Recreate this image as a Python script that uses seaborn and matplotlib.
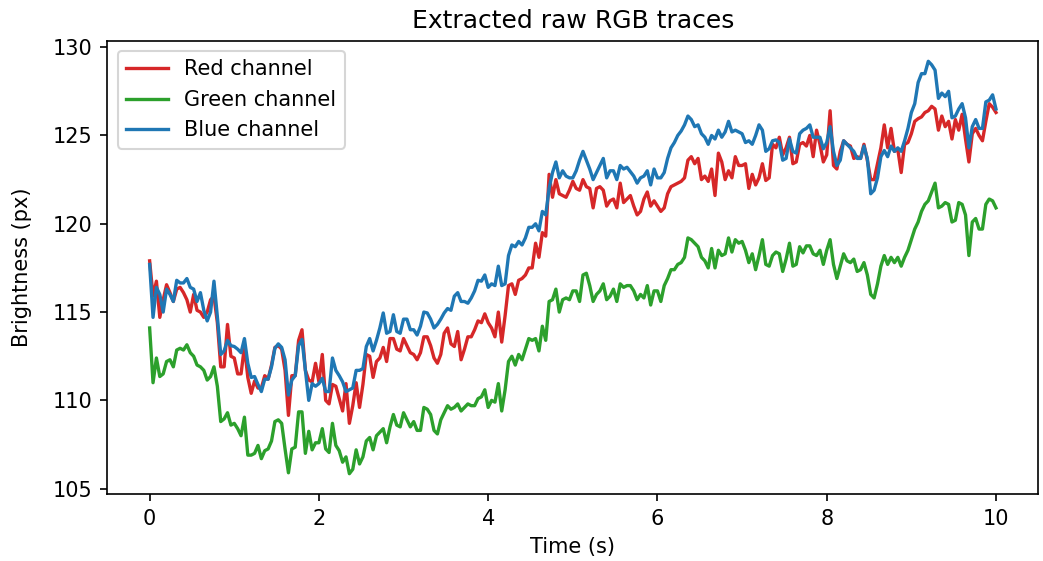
import numpy as np
import pandas as pd
import matplotlib
matplotlib.use("Agg")
import matplotlib.pyplot as plt
import seaborn as sns

# Brightness traces sampled every 0.04 s from 0 to 10 s
red_vals = [
    117.9, 115.9, 116.75, 114.7, 115.7, 116.55, 116.1, 115.6, 116.3, 116.4,
    116.1, 115.7, 115.0, 116.0, 115.1, 115.0, 114.7, 115.0, 115.7, 115.9,
    114.4, 111.9, 111.9, 114.3, 112.5, 112.4, 111.5, 111.5, 113.05, 111.3,
    110.4, 111.1, 110.7, 110.7, 111.4, 111.2, 112.0, 113.0, 113.1, 112.9,
    111.7, 109.15, 111.4, 111.4, 113.4, 114.0, 111.7, 111.15, 111.05, 112.1,
    111.05, 112.6, 110.0, 109.8, 110.9, 110.8, 110.1, 109.4, 110.95, 108.7,
    109.7, 111.0, 109.6, 110.9, 112.6, 112.5, 111.3, 112.2, 112.4, 113.0,
    112.2, 113.5, 113.5, 112.9, 112.8, 113.5, 113.1, 112.7, 112.6, 112.3,
    112.7, 113.6, 113.6, 113.1, 112.4, 112.1, 112.6, 113.8, 114.1, 113.2,
    113.05, 113.9, 112.3, 112.9, 113.6, 113.6, 114.0, 114.5, 114.4, 114.9,
    114.4, 114.1, 113.6, 115.0, 113.3, 114.8, 116.5, 116.6, 116.0, 116.8,
    116.9, 117.1, 117.5, 117.5, 118.9, 118.1, 119.5, 119.3, 122.8, 121.5,
    122.5, 121.7, 121.6, 121.5, 121.9, 122.4, 122.0, 121.9, 122.5, 122.1,
    122.0, 120.9, 122.0, 122.1, 121.9, 121.0, 121.3, 121.4, 120.9, 122.3,
    121.2, 121.4, 121.6, 121.0, 120.5, 120.7, 121.4, 121.8, 121.0, 121.3,
    121.0, 120.7, 120.9, 121.7, 122.1, 122.2, 122.3, 122.4, 122.6, 123.6,
    123.8, 123.4, 123.7, 122.5, 122.7, 122.4, 123.1, 121.6, 124.0, 123.5,
    122.5, 123.0, 122.6, 123.8, 123.3, 123.3, 123.4, 122.0, 122.8, 122.2,
    122.6, 123.4, 122.45, 122.6, 124.5, 124.3, 124.9, 123.9, 124.3, 124.9,
    123.4, 123.5, 124.5, 124.6, 124.4, 125.0, 123.8, 125.3, 124.5, 123.5,
    123.9, 126.4, 123.3, 123.1, 124.1, 124.7, 124.5, 124.4, 123.7, 123.8,
    123.7, 124.5, 123.6, 122.5, 122.5, 123.4, 124.3, 125.6, 124.3, 125.4,
    124.1, 124.2, 122.9, 124.5, 124.6, 125.1, 125.8, 125.95, 126.05, 126.3,
    126.4, 126.65, 126.5, 125.3, 126.1, 125.5, 125.8, 124.8, 125.9, 125.3,
    126.2, 124.8, 123.5, 125.1, 125.4, 125.0, 124.7, 125.8, 126.8, 126.6,
    126.3,
]

green_vals = [
    114.1, 111.0, 112.4, 111.35, 111.5, 112.2, 112.3, 111.9, 112.85, 112.95,
    112.85, 113.15, 112.7, 112.5, 112.0, 111.9, 111.7, 111.15, 111.35, 111.9,
    110.8, 108.8, 108.95, 109.3, 108.6, 108.7, 108.4, 108.0, 109.05, 106.9,
    106.9, 107.0, 107.45, 106.7, 107.15, 107.25, 107.7, 108.8, 108.9, 108.7,
    107.25, 105.9, 107.25, 107.35, 109.35, 109.35, 107.0, 108.25, 107.2, 107.6,
    107.6, 108.4, 107.25, 107.05, 108.7, 107.45, 107.15, 106.5, 106.8, 105.85,
    106.1, 107.2, 106.4, 106.8, 107.7, 107.9, 107.2, 108.0, 108.2, 108.4,
    107.6, 108.5, 109.2, 108.6, 108.5, 109.3, 108.9, 108.5, 108.8, 108.3,
    108.3, 109.6, 109.5, 109.2, 108.3, 108.1, 108.9, 109.3, 109.7, 109.5,
    109.6, 109.8, 109.4, 109.6, 109.8, 109.7, 109.7, 110.1, 110.2, 110.6,
    109.6, 110.0, 109.9, 110.95, 109.4, 110.6, 112.2, 112.5, 112.0, 112.6,
    112.3, 112.9, 113.5, 113.4, 113.5, 112.8, 114.2, 113.4, 115.6, 115.7,
    116.3, 115.0, 115.7, 115.8, 115.7, 116.2, 116.2, 115.6, 117.1, 117.2,
    116.5, 115.6, 116.0, 116.2, 116.6, 115.7, 115.9, 116.3, 115.6, 116.6,
    116.4, 116.5, 116.5, 116.2, 115.7, 116.0, 115.8, 116.5, 115.4, 116.2,
    116.2, 115.6, 116.5, 116.9, 117.4, 117.4, 117.7, 117.8, 118.1, 119.2,
    119.1, 118.9, 118.7, 118.1, 117.9, 117.5, 118.6, 117.5, 118.5, 118.2,
    118.3, 119.2, 118.4, 119.1, 118.9, 119.0, 118.5, 117.8, 118.3, 117.4,
    118.2, 119.1, 117.7, 117.6, 118.2, 118.4, 118.3, 117.3, 118.0, 118.9,
    117.6, 117.7, 118.7, 118.35, 118.75, 118.75, 118.3, 118.2, 118.5, 117.7,
    118.5, 119.1, 117.7, 116.9, 117.6, 118.3, 117.9, 117.8, 118.0, 117.3,
    117.4, 117.8, 117.1, 116.0, 115.8, 116.6, 117.6, 118.2, 117.7, 118.1,
    117.8, 118.1, 117.6, 118.1, 118.5, 119.1, 119.7, 120.1, 120.7, 121.1,
    121.3, 121.8, 122.3, 120.9, 121.0, 121.2, 121.1, 120.1, 120.2, 121.2,
    121.1, 120.5, 118.2, 120.1, 120.3, 119.7, 119.7, 121.1, 121.4, 121.3,
    120.9,
]

blue_vals = [
    117.7, 114.7, 116.4, 116.0, 115.0, 116.3, 116.0, 115.6, 116.8, 116.65,
    116.65, 116.9, 116.4, 116.3, 115.6, 116.1, 115.1, 114.5, 115.0, 116.75,
    114.75, 112.6, 112.8, 113.4, 113.1, 113.05, 112.9, 112.7, 113.5, 112.1,
    111.3, 111.35, 110.9, 110.5, 111.2, 111.2, 111.9, 112.95, 113.2, 113.0,
    112.3, 110.3, 111.15, 111.4, 113.1, 113.45, 111.7, 110.0, 110.95, 110.8,
    110.95, 111.25, 110.5, 110.5, 112.4, 111.7, 111.4, 111.05, 110.5, 110.6,
    110.7, 111.7, 111.7, 111.8, 113.05, 113.5, 112.8, 113.4, 114.1, 114.95,
    113.8, 113.9, 114.85, 113.9, 113.8, 114.6, 114.6, 114.0, 114.0, 113.7,
    114.2, 115.0, 114.95, 114.6, 114.1, 114.3, 114.6, 114.95, 115.2, 115.1,
    115.9, 116.1, 115.6, 115.6, 115.5, 115.8, 116.2, 116.8, 116.75, 117.1,
    116.4, 116.6, 116.5, 117.6, 116.5, 116.6, 118.2, 118.8, 118.7, 119.0,
    118.8, 119.2, 119.8, 119.8, 120.0, 119.6, 120.7, 120.5, 122.0, 122.9,
    123.5, 122.6, 123.0, 122.7, 122.6, 122.6, 123.0, 123.6, 124.1, 123.6,
    123.1, 122.5, 122.9, 123.3, 123.7, 122.6, 123.0, 123.0, 122.5, 123.3,
    123.1, 123.2, 122.95, 122.7, 122.3, 122.6, 122.7, 123.0, 122.2, 123.1,
    122.6, 122.6, 122.9, 123.7, 124.3, 124.6, 125.0, 125.25, 125.6, 126.1,
    125.9, 125.5, 125.6, 125.1, 124.9, 124.5, 125.0, 124.8, 125.3, 124.9,
    125.2, 125.8, 125.2, 125.3, 125.2, 125.1, 124.6, 124.7, 124.5, 125.0,
    125.6, 125.3, 124.1, 124.25, 124.7, 124.75, 124.6, 123.6, 123.7, 124.8,
    124.1, 124.0, 125.1, 125.3, 125.4, 125.6, 124.9, 124.9, 124.9, 124.25,
    124.6, 125.5, 124.1, 123.3, 123.6, 124.7, 124.5, 124.3, 124.1, 123.7,
    123.7, 124.4, 123.7, 121.7, 121.9, 122.6, 123.8, 124.15, 123.8, 124.4,
    124.1, 124.3, 124.1, 124.7, 125.4, 126.3, 126.8, 128.0, 128.5, 128.5,
    129.2, 129.0, 128.7, 127.1, 127.4, 127.2, 127.5, 126.0, 126.1, 126.5,
    126.8, 126.0, 124.3, 125.5, 125.9, 125.4, 125.4, 126.9, 127.0, 127.3,
    126.5,
]

channel_names = ["Red channel", "Green channel", "Blue channel"]
channel_colors = ["#d62728", "#2ca02c", "#1f77b4"]
title_text = "Extracted raw RGB traces"
x_label = "Time (s)"
y_label = "Brightness (px)"

fig, ax = plt.subplots(figsize=(1043 / 150, 561 / 150), dpi=150)
fig.subplots_adjust(left=0.1029, right=0.9955, bottom=0.1189, top=0.9275)

for name, color, vals in zip(channel_names, channel_colors,
                             [red_vals, green_vals, blue_vals]):
    t = np.linspace(0, 10, len(vals))
    df = pd.DataFrame({"t": t, "v": vals})
    sns.lineplot(data=df, x="t", y="v", ax=ax, color=color, label=name,
                 linewidth=1.6, estimator=None)

ax.set_title(title_text, fontsize=12)
ax.set_xlabel(x_label, fontsize=10)
ax.set_ylabel(y_label, fontsize=10, labelpad=10)
ax.set_xticks([0, 2, 4, 6, 8, 10])
ax.set_yticks([105, 110, 115, 120, 125, 130])
ax.legend(loc="upper left", fontsize=10)

fig.savefig("out.png", dpi=150)
